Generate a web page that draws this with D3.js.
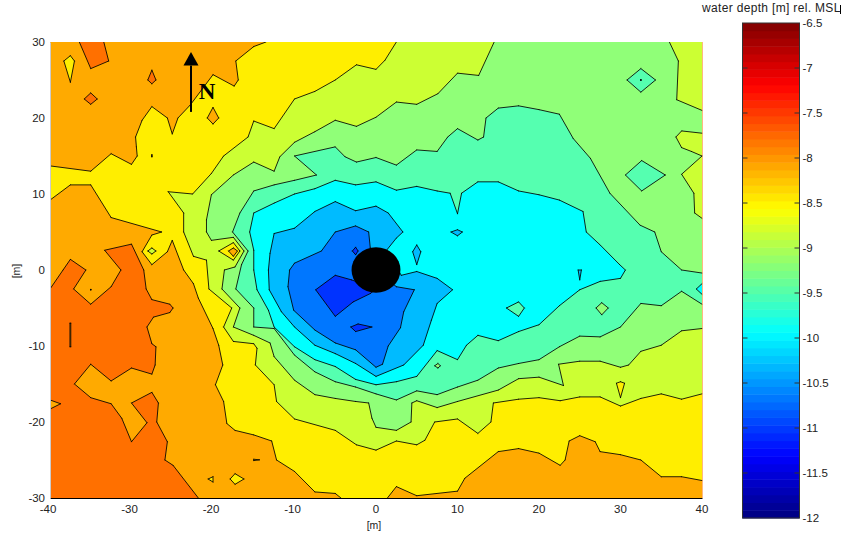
<!DOCTYPE html>
<html>
<head>
<meta charset="utf-8">
<script src="https://cdnjs.cloudflare.com/ajax/libs/d3/7.8.5/d3.min.js"></script>
<style>
html,body{margin:0;padding:0;background:#fff;}
text{font-family:"Liberation Sans",Arial,sans-serif;fill:#222;}
</style>
</head>
<body>
<svg id="c" width="843" height="537"></svg>
<script>
const xTicks = [-40,-30,-20,-10,0,10,20,30,40];
const yTicks = [30,20,10,0,-10,-20,-30];
const barTicks = [-6.5,-7,-7.5,-8,-8.5,-9,-9.5,-10,-10.5,-11,-11.5,-12];
const xLabel = "[m]";
const yLabel = "[m]";
const barTitle = "water depth [m] rel. MSL";

const baseColor = "#FF7000";

// each depth surface: rings in metres [east, north], deeper than the level inside (even-odd)
const deeper797 = [
  [[-40,30],[40,30],[40,-30],[-40,-30]],
  [[-36.4,30],[-35,26.5],[-32.8,27.5],[-33.4,30]],
  [[-27.5,26.3],[-27,25],[-27.5,24.5],[-28,25]],
  [[-35.8,22.5],[-35,23.3],[-34.2,22.5],[-35,21.8]],
  [[-37.55,-7],[-37.45,-7],[-37.45,-10.1],[-37.55,-10.1]],
  [[-40,-2.5],[-38.4,0],[-37.5,1.4],[-35.6,0],[-37.1,-2.5],[-35,-4.5],[-32.5,-2.2],[-31.3,0],[-33.3,2.6],[-30,3.4],[-28.5,0],[-28.2,-2.5],[-27.5,-3.9],[-25.3,-4.5],[-24.9,-5],[-25.3,-5.6],[-27.3,-6.2],[-28.1,-7.5],[-27.5,-9.7],[-27,-10.1],[-27.1,-12.5],[-27.5,-13.7],[-30,-12.9],[-32.5,-14.6],[-35,-12.4],[-37,-15],[-35,-16.8],[-32.5,-17.6],[-31.2,-19.5],[-30,-22.6],[-28.1,-20.1],[-30,-17.5],[-27.5,-16.1],[-26.7,-17.5],[-26.9,-20],[-25.6,-22.6],[-25.9,-25],[-24.9,-25.7],[-21.8,-30],[-40,-30],[-40,-18.3],[-38.7,-17.6],[-40,-17.1]],
  [[-35.03,-2.55],[-34.97,-2.55],[-34.97,-2.62],[-35.03,-2.62]]
];
const deeper833 = [
  [[-13.5,30],[-15,29.4],[-17.2,27.5],[-16.9,25],[-17.4,24.2],[-20,25.7],[-22.8,21.7],[-24.3,20],[-25,17.9],[-25.6,20],[-27.5,21.5],[-28.7,19.7],[-29.5,17.5],[-29.4,16.2],[-29.3,15],[-30,13.9],[-32.5,15.3],[-35,13],[-40,13.7],[-40,9.2],[-37.5,11.2],[-35,11.2],[-32.5,6.9],[-26.3,5],[-27.5,4.6],[-28.7,2.4],[-27.5,0.7],[-25.6,2.4],[-25,3.9],[-23.6,0],[-22.4,-1.8],[-21.8,-3.7],[-20,-7.7],[-19.3,-9.9],[-18.8,-12.5],[-19.7,-15.1],[-18.7,-17.3],[-18.3,-20.2],[-17.3,-21.1],[-15,-21.7],[-12.8,-22.5],[-12.2,-25],[-10,-26.5],[-7.5,-29.2],[-5,-29.4],[-4.3,-30],[1.4,-30],[2.5,-28.5],[5,-29.7],[10,-29.1],[10.9,-27.4],[15,-23.9],[17.5,-23.5],[20,-24.1],[22.6,-25.7],[23.2,-25],[23.7,-22.5],[25,-21.8],[26.9,-22.6],[27.5,-23.9],[30,-24.3],[32.5,-25],[35,-27.2],[37.5,-27.2],[40,-27.7],[40,30]],
  [[-20,21.4],[-19.3,20],[-20,19.2],[-20.7,20]],
  [[-27.53,15.15],[-27.47,15.15],[-27.47,14.9],[-27.53,14.9]],
  [[-18.1,2.5],[-17.5,2.9],[-17,2.5],[-17.5,1.8]],
  [[-38.3,27.5],[-37.5,28.2],[-37,27.5],[-37.5,24.7]],
  [[-17.9,-27.5],[-17.3,-26.8],[-16.2,-27.5],[-17.3,-28.2]],
  [[-20.6,-27.5],[-20,-27.2],[-20,-27.9]],
  [[-15,-24.9],[-14.3,-24.98],[-15,-25.08]]
];
const deeper870 = [
  [[2.5,30],[1.1,27.6],[0,26.4],[-2.4,27],[-5,25],[-7.5,23.5],[-10,22.5],[-12.5,18.6],[-15,19.6],[-15.7,17.5],[-18.7,15],[-20.2,12.7],[-22.5,10],[-25.5,10.3],[-23.6,7.5],[-23.6,5],[-22.4,1.8],[-20.8,1.3],[-20.5,-2.5],[-17.7,-5],[-18.7,-7.5],[-17.5,-9.4],[-15,-9.7],[-14.6,-10.3],[-14.8,-12.5],[-12.5,-15.1],[-12.2,-17.3],[-10,-19.6],[-5,-21.1],[-2.4,-23],[0,-23.7],[2.5,-22.5],[5,-23],[6,-22.4],[7.2,-20],[10,-19.6],[12.5,-21.5],[14.1,-20],[14.4,-17.5],[17.5,-17],[20,-16.8],[22.6,-17.2],[25,-16.7],[27.5,-16.7],[30,-17.9],[32.5,-16.9],[35,-16.3],[37.5,-17],[40,-16.3],[40,30]],
  [[-19.3,2.5],[-17.5,3.6],[-16.7,2.5],[-17.5,1.3]],
  [[-28,2.5],[-27.5,2.9],[-27,2.5],[-27.5,2.1]],
  [[29.5,-14.9],[30,-14.7],[30.5,-14.9],[30,-16.8]]
];
const deeper907 = [
  [[14.5,30],[12.6,25.6],[10,25.9],[7.6,23.2],[5,21.8],[2.5,22.1],[0,20.1],[-2.4,18.9],[-5,19.7],[-7.5,18.2],[-10,16.8],[-11.8,14.9],[-12.5,13],[-15,14.2],[-17.5,12.5],[-20.2,9.9],[-20.8,6.6],[-20.8,5],[-20.2,3.9],[-17.5,4.3],[-16.2,2.5],[-17.3,0.4],[-18.6,0],[-18.9,-2.5],[-16.7,-5],[-17.5,-7.5],[-15,-8.6],[-13,-9.6],[-12.5,-11.4],[-10,-14.5],[-7.5,-16.4],[-5,-16.9],[-2.5,-17.3],[-0.9,-17.5],[-0.5,-19.5],[0,-20.7],[2.5,-21.1],[4.3,-20],[4.4,-17.5],[5,-17.2],[7.5,-18.1],[10,-17.3],[15,-15.8],[17.5,-14.3],[20,-14.1],[23,-15.2],[22.4,-12.4],[25,-12],[27.5,-12],[30,-12.8],[31,-12.5],[32.5,-10.7],[35,-9.9],[37.5,-8],[40,-7.7],[40,6.8],[39.1,7.5],[39,10.1],[37.5,12.6],[40,15],[38.7,15.6],[37.5,16.1],[36.8,17.5],[37.5,18.3],[40,18],[40,21],[36.9,22.4],[37.1,27.5],[36,30]]
];
const deeper943 = [
  [[-10,15],[-7.3,12.5],[-10,11.8],[-12.5,11.2],[-15,10.4],[-16.7,7.5],[-17.6,5],[-15.7,2.5],[-16.5,0.7],[-17.2,-2.5],[-15,-5],[-15,-7.5],[-12.5,-7.7],[-10,-11.2],[-7.5,-13.4],[-5,-14.7],[-2.5,-15.4],[0,-16.3],[2.5,-17.1],[5,-15.9],[7.5,-16.4],[10,-15.4],[12.5,-14.5],[15,-12.9],[17.5,-12.3],[20,-11.8],[22.5,-10.1],[25,-8.7],[27.5,-8.8],[30,-7.5],[32.5,-4.4],[35,-4.7],[37.5,-2.8],[40,-4.5],[40,-0.4],[37.5,0],[35,2.4],[34.2,5],[32.4,5.9],[28.7,10.1],[26.3,14.7],[24.2,17.3],[22.5,20.5],[20,21.1],[17.5,21.6],[15,21.3],[13.5,20],[13.2,17.5],[12.5,17.1],[10,18.6],[8.8,17.5],[7.5,15.6],[5,15.8],[2.5,13.8],[0,14.8],[-2.4,14.2],[-3.8,14.9],[-5,16.2]],
  [[32.5,26.5],[34.3,25],[32.5,23.4],[30.8,25]],
  [[32.6,14.4],[35.5,12.5],[32.6,10.4],[30.6,12.5]],
  [[27,-5],[27.7,-4.3],[28.5,-5],[27.7,-5.9]],
  [[7.2,-12.6],[7.6,-12.3],[7.9,-12.6],[7.6,-12.9]]
];
const deeper980 = [
  [[-15,7.5],[-12.5,8.8],[-10,10],[-7.5,10.7],[-5,11.8],[-2.5,11.2],[0,11.6],[2.5,10.5],[5,11],[7.5,10.4],[9.1,10.1],[10,7.4],[10.5,10.1],[12.5,11.6],[15,11.6],[17.5,10.4],[20,9.9],[22.5,9.2],[25.4,7.7],[25.8,5],[27.5,3.3],[29.9,0.7],[30.6,0],[30,-1.1],[27.5,-1.5],[25,-2.6],[22.5,-4.7],[20,-7.2],[17.5,-8.1],[15,-9.3],[12.5,-8.6],[11.1,-9.9],[10,-11.8],[7.5,-10.6],[5,-14],[2.5,-14.7],[0,-15.1],[-2.5,-14.4],[-5,-12.7],[-7.5,-11.8],[-10,-10.1],[-12.5,-7.5],[-13.2,-5.3],[-14.6,-2.6],[-15,0],[-15,2.6],[-15.5,5]],
  [[16,-5],[17.5,-4.2],[18.2,-5],[17.5,-6.1]],
  [[39.3,-2.5],[40,-1.8],[40,-3.2]],
  [[32.47,25.05],[32.53,25.05],[32.53,24.95],[32.47,24.95]]
];
const deeper1017 = [
  [[-12.5,4.8],[-10,5.5],[-7.5,7.7],[-5,9],[-2.5,7.8],[0,8.4],[1.5,7.5],[3.3,5],[2.5,4.2],[1.3,2.6],[3.1,-0.7],[5,-0.2],[7.5,-1.1],[9.4,-2.6],[7.5,-4.4],[6.8,-6.6],[5.8,-9.9],[3.4,-12.5],[0,-14],[-2.5,-12.3],[-5,-11],[-7.5,-9.9],[-10,-7.5],[-11.6,-5.5],[-13.1,-2.6],[-13.2,0],[-13,2.2]],
  [[9.2,5],[10,5.3],[10.6,5],[10,4.5]],
  [[4.5,2.4],[5,3.3],[5.5,2.4],[5,0.7]],
  [[24.8,0],[25.2,0],[25,-1.3]]
];
const deeper1053 = [
  [[-10,0.9],[-6.7,2.5],[-5,5],[-2.5,5.8],[-0.9,5],[-0.7,2.9],[0,0],[2.5,-2.2],[4.7,-2.6],[3.4,-5.5],[3,-7.6],[1.5,-10],[0.8,-12.4],[0,-12.8],[-2.5,-10.5],[-5,-9.6],[-7.5,-7.9],[-10.1,-5.3],[-10.8,-2.2],[-10.6,0]]
];
const deeper1090 = [
  [[-7.4,-2.6],[-5,-0.7],[-3,-1.3],[0,-2.5],[-0.7,-3.1],[-2.8,-4.2],[-5,-6.1]],
  [[-2.9,2.5],[-2.5,3],[-2.2,2.5],[-2.5,2]],
  [[-3.1,-7.5],[-2.2,-7.1],[-0.5,-7.5],[-2.5,-8.1]]
];
const surfaces = [deeper797,deeper833,deeper870,deeper907,deeper943,deeper980,deeper1017,deeper1053,deeper1090];
const surfaceColors = ["#FFAA00","#FFEE00","#CCFF33","#90FF78","#55FFB0","#00FFFF","#00BBFF","#0077FF","#0033FF"];

const poleRadius = 3;               // metres
const northArrow = {x:-22.7, from:20.8, to:28.7, head:26.9, halfWidth:0.92};

const svg = d3.select("#c");
const x = d3.scaleLinear().domain([-40,40]).range([50,702]);
const y = d3.scaleLinear().domain([-30,30]).range([498,42]);

svg.append("clipPath").attr("id","plot").append("rect")
  .attr("x",x(-40)).attr("y",y(30)).attr("width",x(40)-x(-40)+0.5).attr("height",y(-30)-y(30));

const g = svg.append("g").attr("clip-path","url(#plot)");
g.append("rect").attr("x",x(-40)).attr("y",y(30)).attr("width",x(40)-x(-40)+1).attr("height",y(-30)-y(30)).attr("fill",baseColor);

const line = d3.line().x(d=>x(d[0])).y(d=>y(d[1]));
const ringsPath = rings => rings.map(r => line(r)+"Z").join("");
// contour strokes skip ring segments that run along the plot frame
const onFrame = (a,b) => (a[0]===b[0] && Math.abs(a[0])===40) || (a[1]===b[1] && Math.abs(a[1])===30);
const strokePath = rings => rings.map(r => r.map((p,i)=>{
  const q = r[(i+1)%r.length];
  return onFrame(p,q) ? "" : line([p,q]);
}).join("")).join("");

surfaces.forEach((rings,i)=>{
  g.append("path").attr("d",ringsPath(rings)).attr("fill-rule","evenodd").attr("fill",surfaceColors[i]);
  g.append("path").attr("d",strokePath(rings)).attr("fill","none")
    .attr("stroke","#000").attr("stroke-opacity",0.85).attr("stroke-width",1).attr("stroke-linecap","round");
});

// pole
g.append("ellipse")
  .attr("cx",x(0)).attr("cy",y(0))
  .attr("rx",x(poleRadius)-x(0)).attr("ry",y(0)-y(poleRadius))
  .attr("fill","#000");

// north arrow
svg.append("line")
  .attr("x1",x(northArrow.x)).attr("x2",x(northArrow.x))
  .attr("y1",y(northArrow.from)).attr("y2",y(northArrow.head))
  .attr("stroke","#000").attr("stroke-width",2);
svg.append("path")
  .attr("d",line([[northArrow.x,northArrow.to],[northArrow.x-northArrow.halfWidth,northArrow.head],[northArrow.x+northArrow.halfWidth,northArrow.head]])+"Z")
  .attr("fill","#000");
svg.append("text").attr("x",x(northArrow.x)+16).attr("y",y(northArrow.from)-13)
  .attr("text-anchor","middle")
  .style("font-family","'Liberation Serif',serif").style("font-weight","bold").style("font-size","23px").style("fill","#000")
  .text("N");

// axes
const axB = d3.axisBottom(x).tickValues(xTicks).tickFormat(d=>d).tickSize(0).tickPadding(7);
const axL = d3.axisLeft(y).tickValues(yTicks).tickFormat(d=>d).tickSize(0).tickPadding(5);
const gB = svg.append("g").attr("transform",`translate(0,${y(-30)})`).call(axB);
const gL = svg.append("g").attr("transform",`translate(${x(-40)},0)`).call(axL);
gB.select(".domain").attr("stroke","#000");
gL.select(".domain").attr("stroke","#ccc");
[gB,gL].forEach(s=>s.selectAll("text").style("font-size","11.5px").style("font-family","'Liberation Sans',Arial,sans-serif").attr("fill","#222"));
gB.selectAll(".tick text").attr("dx",d=>d<0?-2.5:-0.5);
svg.append("text").attr("x",374).attr("y",529).attr("text-anchor","middle").style("font-size","10.5px").text(xLabel);
svg.append("text").attr("transform","translate(20,271) rotate(-90)").attr("text-anchor","middle").style("font-size","10.5px").text(yLabel);

// colour bar
const jetR = d3.scaleLinear().domain([0,.375,.625,.875,1]).range([0,0,1,1,.5]).clamp(true);
const jetG = d3.scaleLinear().domain([0,.125,.375,.625,.875,1]).range([0,0,1,1,0,0]).clamp(true);
const jetB = d3.scaleLinear().domain([0,.125,.375,.625,1]).range([.5,1,1,0,0]).clamp(true);
const jet = t => d3.rgb(jetR(t)*255,jetG(t)*255,jetB(t)*255).formatHex();
const barY = d3.scaleLinear().domain([-12,-6.5]).range([518,23]);
const barX0 = 742.5, barX1 = 799.5;
const steps = d3.range(64);
const stepV = i => -12 + i*5.5/64;
svg.append("g").selectAll("rect").data(steps).join("rect")
  .attr("x",barX0).attr("width",barX1-barX0)
  .attr("y",i=>barY(stepV(i+1))).attr("height",i=>barY(stepV(i))-barY(stepV(i+1))+0.5)
  .attr("fill",i=>jet((i+0.5)/64));
svg.append("rect").attr("x",barX0).attr("y",barY(-6.5)).attr("width",barX1-barX0).attr("height",barY(-12)-barY(-6.5))
  .attr("fill","none").attr("stroke","#333").attr("stroke-width",1);
const barAxis = d3.axisRight(barY).tickValues(barTicks).tickFormat(d=>d).tickSize(0).tickPadding(3);
const gBar = svg.append("g").attr("transform",`translate(${barX1},0)`).call(barAxis);
gBar.select(".domain").remove();
gBar.selectAll("text").style("font-size","11.5px").style("font-family","'Liberation Sans',Arial,sans-serif").attr("fill","#222");
const tickG = svg.append("g").selectAll("g").data(barTicks.filter(v=>v!==-6.5&&v!==-12)).join("g");
tickG.append("line").attr("x1",barX0).attr("x2",barX0+5).attr("y1",v=>barY(v)).attr("y2",v=>barY(v)).attr("stroke","#333");
tickG.append("line").attr("x1",barX1-5).attr("x2",barX1).attr("y1",v=>barY(v)).attr("y2",v=>barY(v)).attr("stroke","#333");
svg.append("text").attr("x",702).attr("y",12).style("font-size","12px").style("letter-spacing","0.33px").text(barTitle);
svg.append("line").attr("x1",840.5).attr("x2",840.5).attr("y1",5).attr("y2",14).attr("stroke","#000");
</script>
</body>
</html>
